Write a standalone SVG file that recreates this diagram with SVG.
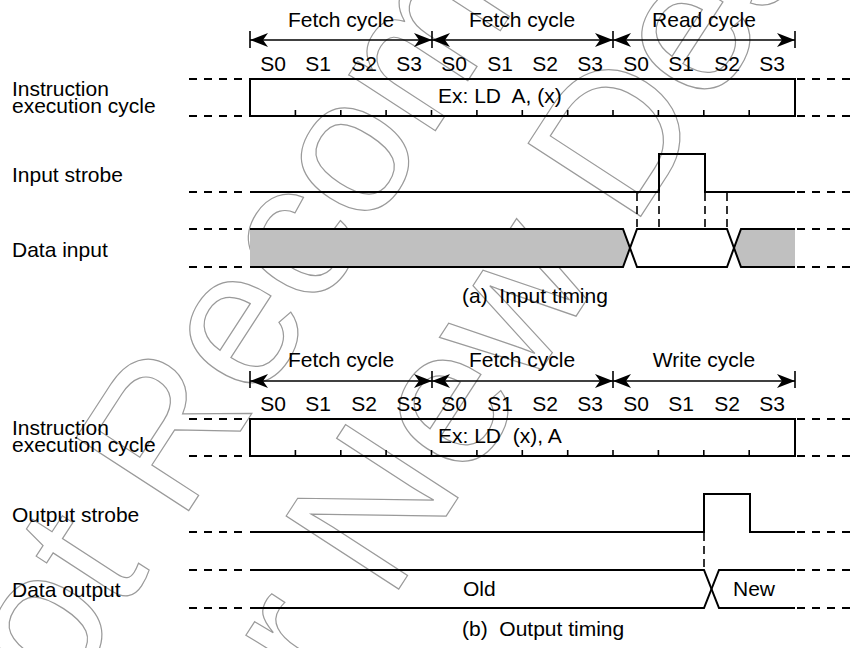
<svg xmlns="http://www.w3.org/2000/svg" width="860" height="648" viewBox="0 0 860 648">
<style>
text{font-family:"Liberation Sans",Arial,sans-serif;font-size:21px;fill:#000}
.c{text-anchor:middle}
.ln{fill:none;stroke:#000;stroke-width:2}
.dash{fill:none;stroke:#000;stroke-width:2;stroke-dasharray:8 7}
.vd{fill:none;stroke:#000;stroke-width:1.6;stroke-dasharray:8 5}
.tk{fill:none;stroke:#000;stroke-width:1.6}
.arr{fill:none;stroke:#000;stroke-width:1.6;marker-start:url(#ah);marker-end:url(#ah)}
.gray{fill:#c0c0c0;stroke:none}
.wm text{font-size:195px;fill:none;stroke:#9a9a9a;stroke-width:1.2;text-anchor:middle}
</style>
<defs>
<marker id="ah" markerUnits="userSpaceOnUse" markerWidth="18" markerHeight="14" refX="18" refY="7" orient="auto-start-reverse">
<path d="M0,0 L18,7 L0,14 L5,7 Z" fill="#000"/>
</marker>
</defs>
<rect width="860" height="648" fill="#fff"/>

<g class="wm" id="watermark" transform="translate(493,220) rotate(-57)">
<text x="57" y="-97">Not Recommended</text>
<text x="8" y="122">for New Design</text>
</g>

<!-- (a) Input timing -->
<g id="a-cycles">
<line class="tk" x1="250" y1="31" x2="250" y2="48"/>
<line class="tk" x1="432" y1="31" x2="432" y2="48"/>
<line class="tk" x1="613" y1="31" x2="613" y2="48"/>
<line class="tk" x1="795" y1="31" x2="795" y2="48"/>
<line class="arr" x1="250" y1="40" x2="432" y2="40"/>
<line class="arr" x1="432" y1="40" x2="613" y2="40"/>
<line class="arr" x1="613" y1="40" x2="795" y2="40"/>
<text class="c" x="341" y="27">Fetch cycle</text>
<text class="c" x="522" y="27">Fetch cycle</text>
<text class="c" x="704" y="27">Read cycle</text>
</g>
<g id="a-states">
<text class="c" x="273" y="71">S0</text><text class="c" x="318" y="71">S1</text><text class="c" x="364" y="71">S2</text><text class="c" x="409" y="71">S3</text>
<text class="c" x="454" y="71">S0</text><text class="c" x="500" y="71">S1</text><text class="c" x="545" y="71">S2</text><text class="c" x="590" y="71">S3</text>
<text class="c" x="636" y="71">S0</text><text class="c" x="681" y="71">S1</text><text class="c" x="727" y="71">S2</text><text class="c" x="772" y="71">S3</text>
</g>
<g id="a-iec">
<text x="12" y="96">Instruction</text>
<text x="12" y="113">execution cycle</text>
<line class="dash" x1="189" y1="79" x2="248" y2="79"/>
<line class="dash" x1="189" y1="116" x2="248" y2="116"/>
<rect class="ln" x="250" y="79" width="545" height="37"/>
<line class="dash" x1="797" y1="79" x2="856" y2="79"/>
<line class="dash" x1="797" y1="116" x2="856" y2="116"/>
<path class="tk" d="M295.4,116v-6M340.8,116v-6M386.1,116v-6M431.5,116v-6M476.9,116v-6M522.3,116v-6M567.7,116v-6M613,116v-6M658.4,116v-6M703.8,116v-6M749.2,116v-6"/>
<text x="438" y="103" xml:space="preserve">Ex: LD  A, (x)</text>
</g>
<g id="a-strobe">
<text x="12" y="182">Input strobe</text>
<line class="dash" x1="189" y1="192" x2="248" y2="192"/>
<polyline class="ln" points="250,192 659,192 659,154 705,154 705,192 795,192"/>
<line class="dash" x1="797" y1="192" x2="856" y2="192"/>
</g>
<g id="a-data">
<text x="12" y="257">Data input</text>
<polygon class="gray" points="250,229 623,229 630,248 623,267 250,267"/>
<polygon class="gray" points="741,229 795,229 795,267 741,267 734,248"/>
<line class="dash" x1="189" y1="229" x2="248" y2="229"/>
<line class="dash" x1="189" y1="267" x2="248" y2="267"/>
<polyline class="ln" points="250,229 623,229 637,267 727,267 741,229 795,229"/>
<polyline class="ln" points="250,267 623,267 637,229 727,229 741,267 795,267"/>
<line class="dash" x1="797" y1="229" x2="856" y2="229"/>
<line class="dash" x1="797" y1="267" x2="856" y2="267"/>
</g>
<g id="a-connectors">
<line class="vd" x1="637" y1="193" x2="637" y2="229"/>
<line class="vd" x1="659" y1="193" x2="659" y2="229"/>
<line class="vd" x1="705" y1="193" x2="705" y2="229"/>
<line class="vd" x1="727" y1="193" x2="727" y2="229"/>
</g>
<text id="cap-a" x="462" y="303" xml:space="preserve">(a)  Input timing</text>

<!-- (b) Output timing -->
<g id="b-cycles">
<line class="tk" x1="250" y1="371" x2="250" y2="388"/>
<line class="tk" x1="432" y1="371" x2="432" y2="388"/>
<line class="tk" x1="613" y1="371" x2="613" y2="388"/>
<line class="tk" x1="795" y1="371" x2="795" y2="388"/>
<line class="arr" x1="250" y1="381" x2="432" y2="381"/>
<line class="arr" x1="432" y1="381" x2="613" y2="381"/>
<line class="arr" x1="613" y1="381" x2="795" y2="381"/>
<text class="c" x="341" y="367">Fetch cycle</text>
<text class="c" x="522" y="367">Fetch cycle</text>
<text class="c" x="704" y="367">Write cycle</text>
</g>
<g id="b-states">
<text class="c" x="273" y="411">S0</text><text class="c" x="318" y="411">S1</text><text class="c" x="364" y="411">S2</text><text class="c" x="409" y="411">S3</text>
<text class="c" x="454" y="411">S0</text><text class="c" x="500" y="411">S1</text><text class="c" x="545" y="411">S2</text><text class="c" x="590" y="411">S3</text>
<text class="c" x="636" y="411">S0</text><text class="c" x="681" y="411">S1</text><text class="c" x="727" y="411">S2</text><text class="c" x="772" y="411">S3</text>
</g>
<g id="b-iec">
<text x="12" y="435">Instruction</text>
<text x="12" y="452">execution cycle</text>
<line class="dash" x1="189" y1="419" x2="248" y2="419"/>
<line class="dash" x1="189" y1="456" x2="248" y2="456"/>
<rect class="ln" x="250" y="419" width="545" height="37"/>
<line class="dash" x1="797" y1="419" x2="856" y2="419"/>
<line class="dash" x1="797" y1="456" x2="856" y2="456"/>
<path class="tk" d="M295.4,456v-6M340.8,456v-6M386.1,456v-6M431.5,456v-6M476.9,456v-6M522.3,456v-6M567.7,456v-6M613,456v-6M658.4,456v-6M703.8,456v-6M749.2,456v-6"/>
<text x="438" y="443" xml:space="preserve">Ex: LD  (x), A</text>
</g>
<g id="b-strobe">
<text x="12" y="522">Output strobe</text>
<line class="dash" x1="189" y1="532" x2="248" y2="532"/>
<polyline class="ln" points="250,532 704,532 704,494 750,494 750,532 795,532"/>
<line class="dash" x1="797" y1="532" x2="856" y2="532"/>
</g>
<g id="b-data">
<text x="12" y="597">Data output</text>
<line class="dash" x1="189" y1="570" x2="248" y2="570"/>
<line class="dash" x1="189" y1="608" x2="248" y2="608"/>
<polyline class="ln" points="250,570 704,570 719,608 795,608"/>
<polyline class="ln" points="250,608 704,608 719,570 795,570"/>
<line class="dash" x1="797" y1="570" x2="856" y2="570"/>
<line class="dash" x1="797" y1="608" x2="856" y2="608"/>
<text x="463" y="596">Old</text>
<text x="733" y="596">New</text>
</g>
<g id="b-connectors">
<line class="vd" x1="704" y1="533" x2="704" y2="570"/>
</g>
<text id="cap-b" x="462" y="636" xml:space="preserve">(b)  Output timing</text>
</svg>
